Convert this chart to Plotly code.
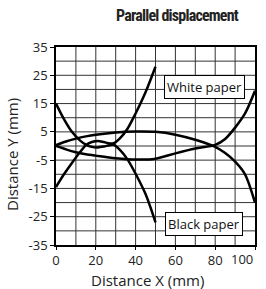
import plotly.graph_objects as go

# Curve data (Distance X in mm, Distance Y in mm)
black_a_x = [0, 4, 8, 12, 15, 18, 21, 24, 27, 29, 32, 36, 40, 45, 50]
black_a_y = [15, 9.5, 5.0, 2.0, 0.5, -0.3, -0.5, -0.2, 0.3, 0.4, -1.3, -4.8, -9.8, -17, -27]

black_b_x = [0, 4, 8, 12, 15, 18, 21, 24, 27, 29, 32, 36, 40, 45, 50]
black_b_y = [-14.5, -10, -6, -2.2, 0.3, 1.4, 1.8, 1.4, 0.9, 1.0, 2.6, 6.2, 11.5, 19, 28]

white_c_x = [0, 5, 10, 15, 20, 30, 40, 50, 60, 70, 80, 85, 90, 95, 100]
white_c_y = [0.3, 1.6, 2.6, 3.4, 4.0, 4.8, 5.1, 5.0, 4.0, 2.2, -0.3, -2.5, -5.5, -10, -20]

white_d_x = [0, 5, 10, 15, 20, 30, 40, 50, 60, 70, 80, 85, 90, 95, 100]
white_d_y = [0, -1.2, -2.2, -2.9, -3.4, -4.3, -4.8, -4.5, -2.6, -0.9, 0.4, 2.5, 6.5, 11.5, 19.5]

y_tick_vals = [35, 25, 15, 5, -5, -15, -25, -35]
y_tick_text = ["35", "25", "15", "5", "-5", "-15", "-25", "-35"]
x_tick_vals = [0, 20, 40, 60, 80, 100]
x_tick_text = ["0", "20", "40", "60", "80", "100"]

title_text = "Parallel displacement"
x_title = "Distance X (mm)"
y_title = "Distance Y (mm)"
label_white = "White paper"
label_black = "Black paper"

fig = go.Figure()
for xs, ys in [(black_a_x, black_a_y), (black_b_x, black_b_y),
               (white_c_x, white_c_y), (white_d_x, white_d_y)]:
    fig.add_trace(go.Scatter(x=xs, y=ys, mode="lines",
                             line=dict(color="black", width=2.5, shape="spline", smoothing=0.8),
                             showlegend=False, hoverinfo="skip"))

font_main = "Open Sans"
title_html = ('<span style="font-stretch:condensed;letter-spacing:-0.8px">'
              + title_text + '</span>')
fig.update_layout(
    width=266, height=289,
    margin=dict(l=56, r=11, t=47, b=44, autoexpand=False),
    paper_bgcolor="white", plot_bgcolor="white",
    showlegend=False,
    title=dict(text=title_html, x=177 / 266, xanchor="center", y=1 - 15 / 289, yanchor="middle",
               font=dict(family="Roboto", size=16, color="#222", weight="bold")),
    font=dict(family=font_main, size=13, color="#222"),
)
# last x label is drawn right-aligned at the axis end (as in the reference)
fig.update_xaxes(range=[0, 100], tickvals=x_tick_vals,
                 ticktext=x_tick_text[:-1] + [""], ticks="outside", ticklen=3, tickcolor="black",
                 showgrid=False, zeroline=False, showline=True, linecolor="black", linewidth=1.5,
                 mirror=True, automargin=False, tickfont=dict(size=13))
fig.add_annotation(x=x_tick_vals[-1], y=0, xref="x", yref="paper", yshift=-14,
                   text=x_tick_text[-1], showarrow=False, xanchor="right", yanchor="middle",
                   font=dict(family=font_main, size=13, color="#222"))
fig.update_yaxes(range=[-35, 35], tickvals=y_tick_vals, ticktext=y_tick_text, ticks="outside",
                 ticklen=4, tickcolor="black", showgrid=False, zeroline=False, showline=True,
                 linecolor="black", linewidth=1.5, mirror=True, automargin=False,
                 tickfont=dict(size=13))

# axis titles placed as text
fig.add_annotation(x=-44 / 199, y=(245 - 155) / 198, xref="paper", yref="paper", text=y_title,
                   textangle=-90, showarrow=False, xanchor="center", yanchor="middle",
                   font=dict(family=font_main, size=15, color="#222"))
fig.add_annotation(x=(147 - 56) / 199, y=(245 - 280) / 198, xref="paper", yref="paper", text=x_title,
                   showarrow=False, xanchor="center", yanchor="middle",
                   font=dict(family=font_main, size=15, color="#222"))

# grid: vertical every 10, horizontal every 5
for gx in range(10, 100, 10):
    fig.add_shape(type="line", xref="x", yref="paper", x0=gx, x1=gx, y0=0, y1=1,
                  line=dict(color="#333", width=1), layer="below")
for gy in range(-30, 35, 5):
    fig.add_shape(type="line", xref="paper", yref="y", x0=0, x1=1, y0=gy, y1=gy,
                  line=dict(color="#333", width=1), layer="below")

for text, ax_x, ax_y in [(label_white, 74.5, 20.8), (label_black, 74.5, -27.6)]:
    fig.add_annotation(x=ax_x, y=ax_y, xref="x", yref="y", text=text, showarrow=False,
                       font=dict(family=font_main, size=13, color="#111"),
                       bgcolor="white", bordercolor="black", borderwidth=1, borderpad=2)

fig.write_html("out.html", config={"displayModeBar": False},
               post_script="document.body.style.margin='0';document.body.style.padding='0';")
